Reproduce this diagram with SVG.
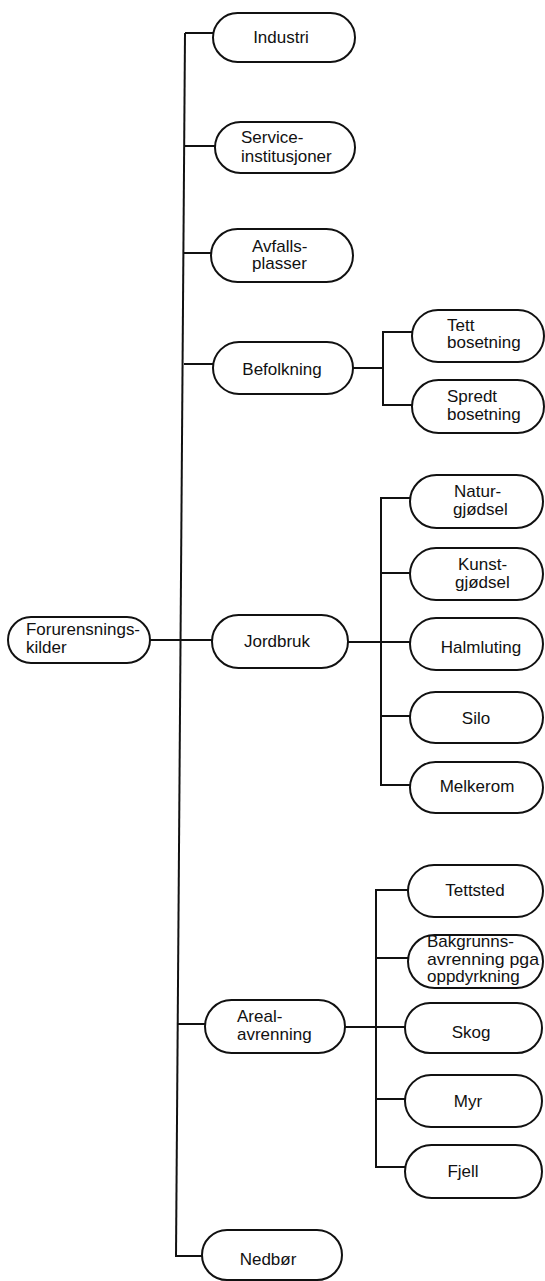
<svg xmlns="http://www.w3.org/2000/svg" width="545" height="1281" viewBox="0 0 545 1281">
<style>
.n{fill:#fff;stroke:#111;stroke-width:2}
.c{fill:none;stroke:#111;stroke-width:2}
text{font-family:"Liberation Sans",Arial,sans-serif;font-size:17px;fill:#111}
.m{text-anchor:middle}
</style>
<rect width="545" height="1281" fill="#fff"/>
<g id="connectors">
<line class="c" x1="185" y1="33" x2="176" y2="1257"/>
<line class="c" x1="185" y1="33" x2="213" y2="33"/>
<line class="c" x1="185" y1="146" x2="215" y2="146"/>
<line class="c" x1="184" y1="253" x2="211" y2="253"/>
<line class="c" x1="184" y1="364" x2="213" y2="364"/>
<line class="c" x1="150" y1="640" x2="212" y2="640"/>
<line class="c" x1="177" y1="1024" x2="205" y2="1024"/>
<polyline class="c" points="176,1256 202,1256"/>
<line class="c" x1="353" y1="368" x2="383" y2="368"/>
<polyline class="c" points="412,332 383,332 383,405 412,405"/>
<line class="c" x1="348" y1="642" x2="410" y2="642"/>
<polyline class="c" points="410,498 381,498 381,785 410,785"/>
<line class="c" x1="381" y1="573" x2="410" y2="573"/>
<line class="c" x1="381" y1="716" x2="410" y2="716"/>
<line class="c" x1="345" y1="1027" x2="405" y2="1027"/>
<polyline class="c" points="408,890 376,890 376,1167 405,1167"/>
<line class="c" x1="376" y1="958" x2="408" y2="958"/>
<line class="c" x1="376" y1="1099" x2="405" y2="1099"/>
</g>
<g id="forurensningskilder"><rect class="n" x="8" y="617" width="142" height="46" rx="23"/><text x="26" y="635" textLength="114" lengthAdjust="spacingAndGlyphs">Forurensnings-</text><text x="26" y="653">kilder</text></g>
<g id="industri"><rect class="n" x="213" y="13" width="142" height="49" rx="24.5"/><text class="m" x="281" y="43">Industri</text></g>
<g id="service"><rect class="n" x="215" y="122" width="140" height="51" rx="25.5"/><text x="241" y="143">Service-</text><text x="241" y="162">institusjoner</text></g>
<g id="avfalls"><rect class="n" x="211" y="229" width="142" height="53" rx="26.5"/><text x="252" y="252">Avfalls-</text><text x="252" y="269">plasser</text></g>
<g id="befolkning"><rect class="n" x="213" y="342" width="140" height="52" rx="26"/><text class="m" x="282" y="375">Befolkning</text></g>
<g id="tett"><rect class="n" x="412" y="310" width="132" height="52" rx="26"/><text x="447" y="331">Tett</text><text x="447" y="348">bosetning</text></g>
<g id="spredt"><rect class="n" x="412" y="380" width="132" height="53" rx="26.5"/><text x="447" y="402">Spredt</text><text x="447" y="420">bosetning</text></g>
<g id="jordbruk"><rect class="n" x="212" y="615" width="136" height="53" rx="26.5"/><text class="m" x="277" y="647">Jordbruk</text></g>
<g id="natur"><rect class="n" x="410" y="475" width="133" height="53" rx="26.5"/><text x="454" y="497">Natur-</text><text x="453" y="515">gjødsel</text></g>
<g id="kunst"><rect class="n" x="410" y="548" width="133" height="52" rx="26"/><text x="458" y="570">Kunst-</text><text x="455" y="588">gjødsel</text></g>
<g id="halmluting"><rect class="n" x="410" y="618" width="133" height="52" rx="26"/><text class="m" x="481" y="653">Halmluting</text></g>
<g id="silo"><rect class="n" x="410" y="692" width="133" height="51" rx="25.5"/><text class="m" x="476" y="724">Silo</text></g>
<g id="melkerom"><rect class="n" x="410" y="762" width="133" height="51" rx="25.5"/><text class="m" x="477" y="792">Melkerom</text></g>
<g id="areal"><rect class="n" x="205" y="1000" width="140" height="53" rx="26.5"/><text x="237" y="1022">Areal-</text><text x="237" y="1040">avrenning</text></g>
<g id="tettsted"><rect class="n" x="408" y="865" width="135" height="52" rx="26"/><text class="m" x="475" y="896">Tettsted</text></g>
<g id="bakgrunns"><rect class="n" x="408" y="935" width="135" height="53" rx="26.5"/><text x="427" y="947">Bakgrunns-</text><text x="427" y="965" textLength="112" lengthAdjust="spacingAndGlyphs">avrenning pga</text><text x="427" y="982">oppdyrkning</text></g>
<g id="skog"><rect class="n" x="405" y="1003" width="137" height="50" rx="25"/><text class="m" x="471" y="1038">Skog</text></g>
<g id="myr"><rect class="n" x="405" y="1075" width="137" height="52" rx="26"/><text class="m" x="468" y="1107">Myr</text></g>
<g id="fjell"><rect class="n" x="405" y="1145" width="137" height="53" rx="26.5"/><text class="m" x="463" y="1177">Fjell</text></g>
<g id="nedbor"><rect class="n" x="202" y="1230" width="140" height="50" rx="25"/><text class="m" x="268" y="1265">Nedbør</text></g>
</svg>
